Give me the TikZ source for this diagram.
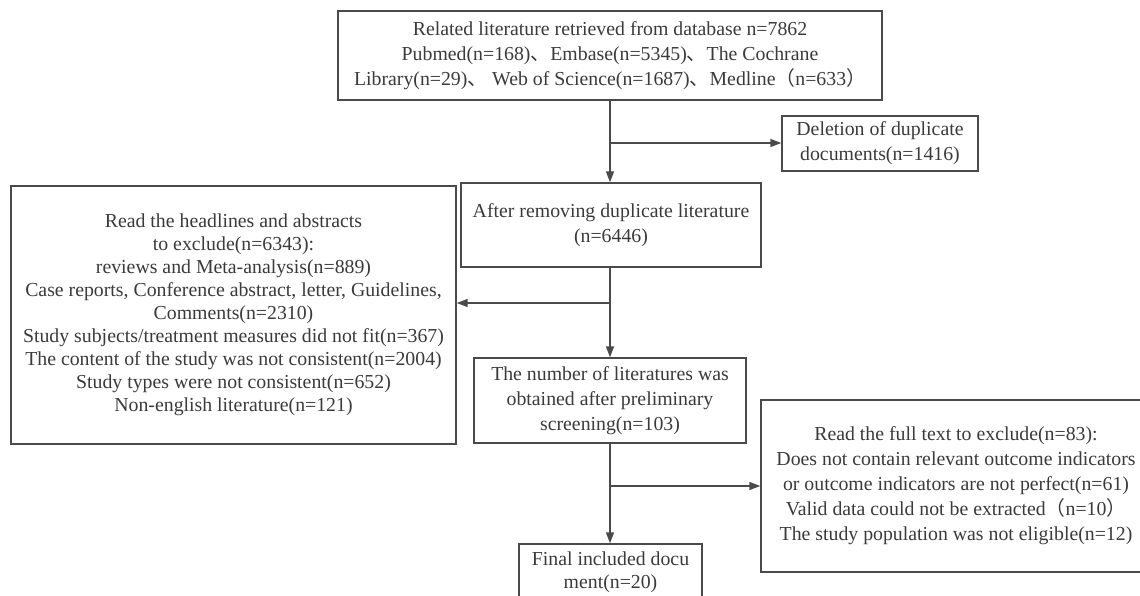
\documentclass[tikz,border=0pt]{standalone}
\usepackage{fontspec}
\setmainfont{Liberation Serif}
\newfontfamily\cjk{Noto Sans CJK SC}
\usetikzlibrary{arrows.meta}
\definecolor{txt}{HTML}{3A3A3A}
\definecolor{ln}{HTML}{4A4A4A}
\newcommand{\dn}{{\cjk 、}}
\newcommand{\lp}{{\cjk （}}
\newcommand{\rp}{{\cjk ）}}
\tikzset{
  box/.style={draw=ln, line width=1.4pt, rectangle, align=center, inner sep=0pt,
    text=txt, font=\fontsize{19.8}{25}\selectfont},
  arr/.style={draw=ln, line width=1.4pt, -{Triangle[length=11pt,width=8pt]}},
}
\begin{document}
\begin{tikzpicture}[x=1pt,y=-1pt]
\useasboundingbox (0,0) rectangle (1140,595);
\clip (0,0) rectangle (1140,595);
\node[box, minimum width=544pt, minimum height=89pt] (top) at (610,55.5)
  {Related literature retrieved from database n=7862\\
   Pubmed(n=168)\dn Embase(n=5345)\dn The Cochrane\\
   Library(n=29)\dn\ Web of Science(n=1687)\dn Medline\lp n=633\rp};
\node[box, minimum width=196pt, minimum height=55pt] (del) at (880,143.5)
  {Deletion of duplicate\\ documents(n=1416)};
\node[box, minimum width=300pt, minimum height=84pt] (rem) at (611,225)
  {After removing duplicate literature\\ (n=6446)};
\node[box, minimum width=445pt, minimum height=258pt, font=\fontsize{19.8}{23}\selectfont] (exc1) at (233.5,315)
  {Read the headlines and abstracts\\
   to exclude(n=6343):\\
   reviews and Meta-analysis(n=889)\\
   Case reports, Conference abstract, letter, Guidelines,\\
   Comments(n=2310)\\
   Study subjects/treatment measures did not fit(n=367)\\
   The content of the study was not consistent(n=2004)\\
   Study types were not consistent(n=652)\\
   Non-english literature(n=121)};
\node[box, minimum width=272pt, minimum height=85pt] (pre) at (610,400.5)
  {The number of literatures was\\ obtained after preliminary\\ screening(n=103)};
\node[box, minimum width=390pt, minimum height=172pt] (exc2) at (956,486)
  {Read the full text to exclude(n=83):\\
   Does not contain relevant outcome indicators\\
   or outcome indicators are not perfect(n=61)\\
   Valid data could not be extracted\lp n=10\rp\\
   The study population was not eligible(n=12)};
\node[box, minimum width=183pt, minimum height=56pt, font=\fontsize{19.8}{23}\selectfont] (fin) at (610.5,572)
  {Final included docu\\ ment(n=20)};
\coordinate (b1) at (610,143);
\coordinate (b2) at (610,303);
\coordinate (b3) at (610,486);
\draw[arr] (top.south -| b1) -- (rem.north -| b1);
\draw[arr] (b1) -- (b1 -| del.west);
\draw[arr] (rem.south -| b2) -- (pre.north -| b2);
\draw[arr] (b2) -- (b2 -| exc1.east);
\draw[arr] (pre.south -| b3) -- (fin.north -| b3);
\draw[arr] (b3) -- (b3 -| exc2.west);
\end{tikzpicture}
\end{document}
